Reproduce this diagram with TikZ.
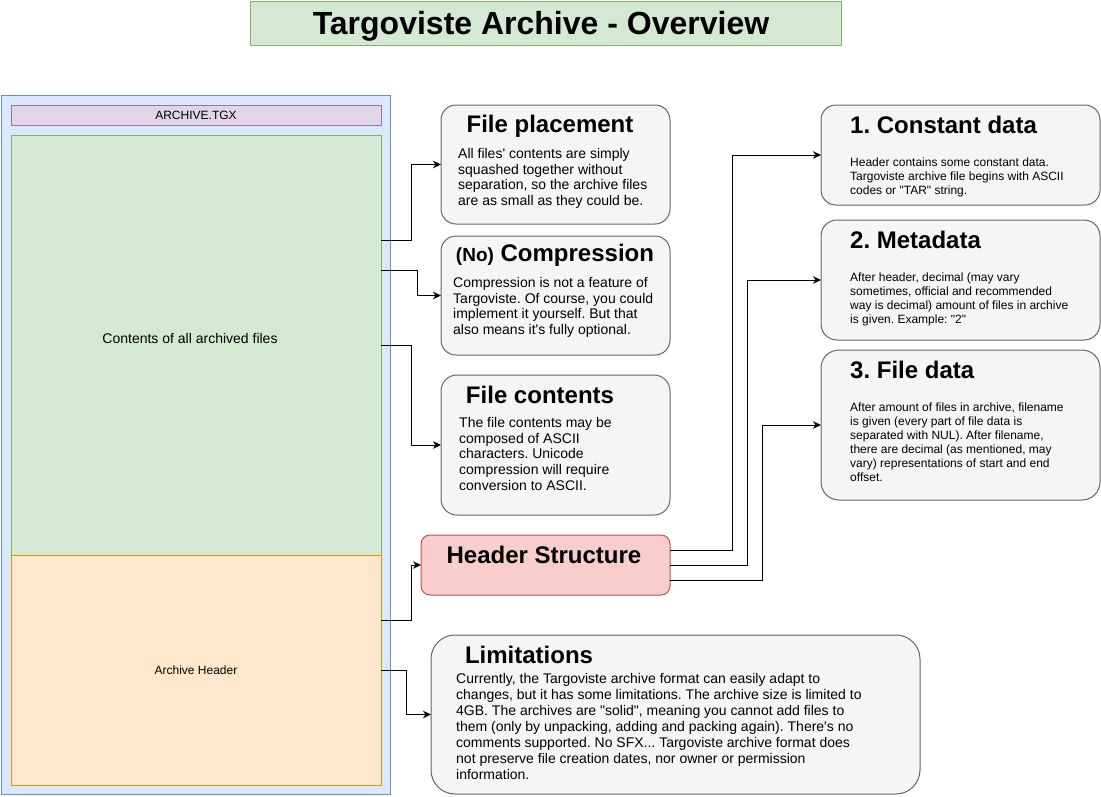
\documentclass[tikz,border=0pt]{standalone}
\usepackage{fontspec}
\setmainfont{Liberation Sans}[Ligatures=TeXOff]
\usetikzlibrary{arrows.meta,calc}
\definecolor{titleF}{HTML}{D5E8D4}
\definecolor{titleD}{HTML}{82B366}
\definecolor{blueF}{HTML}{DAE8FC}
\definecolor{blueD}{HTML}{6C8EBF}
\definecolor{purpF}{HTML}{E1D5E7}
\definecolor{purpD}{HTML}{9673A6}
\definecolor{orgF}{HTML}{FFE6CC}
\definecolor{orgD}{HTML}{D79B00}
\definecolor{greyF}{HTML}{F5F5F5}
\definecolor{greyD}{HTML}{666666}
\definecolor{pinkF}{HTML}{F8CECC}
\definecolor{pinkD}{HTML}{B85450}
\frenchspacing
\begin{document}
\begin{tikzpicture}[x=1pt,y=-1pt,
  box/.style={draw, line width=1pt, inner sep=0pt, outer sep=0pt, anchor=north west},
  greybox/.style={box, fill=greyF, draw=greyD},
  arr/.style={draw=black, line width=1pt, -{Stealth[length=8pt,width=7.5pt,inset=2.5pt]}},
  head/.style={font=\fontsize{24}{26}\selectfont\bfseries, inner sep=0pt, anchor=base},
  headw/.style={head, anchor=base west},
  body/.style={font=\fontsize{14}{15.8}\selectfont, align=left, inner sep=0pt, anchor=north west},
  sbody/.style={font=\fontsize{12}{14}\selectfont, align=left, inner sep=0pt, anchor=north west}]
\useasboundingbox (0,0) rectangle (1101,796);
\fill[white] (0,0) rectangle (1101,796);

% title
\node[box, fill=titleF, draw=titleD, minimum width=591pt, minimum height=44pt] (title) at (250,1) {};
\node[font=\fontsize{32}{34}\selectfont\bfseries, anchor=base, inner sep=0pt] (titleT) at (541,34) {Targoviste Archive - Overview};

% archive container
\node[box, fill=blueF, draw=blueD, minimum width=389pt, minimum height=699pt] (outer) at (1.5,95.5) {};
\node[box, fill=purpF, draw=purpD, minimum width=370pt, minimum height=20pt, font=\fontsize{12}{14}\selectfont] (tgx) at (11,105) {ARCHIVE.TGX};
\node[box, fill=titleF, draw=titleD, minimum width=370pt, minimum height=420pt] (green) at (11,135) {};
\node[font=\fontsize{14}{15}\selectfont, inner sep=0pt] (greenT) at (190,338) {Contents of all archived files};
\node[box, fill=orgF, draw=orgD, minimum width=370pt, minimum height=230pt, font=\fontsize{12}{13}\selectfont] (orange) at (11,555) {Archive Header};

% left column boxes
\node[greybox, rounded corners=15pt, minimum width=229pt, minimum height=119pt] (fp) at (441,105) {};
\node[head] (fpT) at (550,132) {File placement};
\node[body] (fpB) at (458,148) {All files' contents are simply\\squashed together without\\separation, so the archive files\\are as small as they could be.};

\node[greybox, rounded corners=15pt, minimum width=229pt, minimum height=119pt] (cmp) at (441,236) {};
\node[head] (cmpT) at (555,261) {{\fontsize{19}{20}\selectfont (No)} Compression};
\node[body] (cmpB) at (453,277) {Compression is not a feature of\\Targoviste. Of course, you could\\implement it yourself. But that\\also means it's fully optional.};

\node[greybox, rounded corners=16pt, minimum width=229pt, minimum height=140pt] (fc) at (441,375) {};
\node[head] (fcT) at (540,403) {File contents};
\node[body] (fcB) at (459,417) {The file contents may be\\composed of ASCII\\characters. Unicode\\compression will require\\conversion to ASCII.};

\node[box, fill=pinkF, draw=pinkD, rounded corners=9pt, minimum width=249pt, minimum height=60pt] (hs) at (421,535) {};
\node[head] (hsT) at (544,563) {Header Structure};

\node[greybox, rounded corners=24pt, minimum width=489pt, minimum height=159pt] (lim) at (431,635) {};
\node[head] (limT) at (529,663) {Limitations};
\node[body, font=\fontsize{14}{16}\selectfont] (limB) at (456,673) {Currently, the Targoviste archive format can easily adapt to\\changes, but it has some limitations. The archive size is limited to\\4GB. The archives are "solid", meaning you cannot add files to\\them (only by unpacking, adding and packing again). There's no\\comments supported. No SFX... Targoviste archive format does\\not preserve file creation dates, nor owner or permission\\information.};

% right column boxes
\node[greybox, rounded corners=15pt, minimum width=279pt, minimum height=100pt] (c1) at (821,105) {};
\node[headw] (c1T) at (850,133) {1. Constant data};
\node[sbody] (c1B) at (850,158) {Header contains some constant data.\\Targoviste archive file begins with ASCII\\codes or "TAR" string.};

\node[greybox, rounded corners=16pt, minimum width=279pt, minimum height=120pt] (c2) at (821,220) {};
\node[headw] (c2T) at (850,248) {2. Metadata};
\node[sbody] (c2B) at (850,273) {After header, decimal (may vary\\sometimes, official and recommended\\way is decimal) amount of files in archive\\is given. Example: "2"};

\node[greybox, rounded corners=18pt, minimum width=279pt, minimum height=150pt] (c3) at (821,350) {};
\node[headw] (c3T) at (850,378) {3. File data};
\node[sbody] (c3B) at (850,403) {After amount of files in archive, filename\\is given (every part of file data is\\separated with NUL). After filename,\\there are decimal (as mentioned, may\\vary) representations of start and end\\offset.};

% connectors
\draw[arr] ([yshift=105pt]green.east) -- ++(30pt,0) |- (fp.west);
\draw[arr] ([yshift=75pt]green.east) -- ++(36pt,0) |- (cmp.west);
\draw[arr] (green.east) -- ++(30pt,0) |- (fc.west);
\draw[arr] ([yshift=50pt]orange.east) -- ++(30pt,0) |- (hs.west);
\draw[arr] (orange.east) -- ++(25pt,0) |- (lim.west);
\draw[arr] ([yshift=15pt]hs.east) -- ++(62pt,0) |- (c1.west);
\draw[arr] (hs.east) -- ++(77pt,0) |- (c2.west);
\draw[arr] ([yshift=-15pt]hs.east) -- ++(92pt,0) |- (c3.west);
\end{tikzpicture}
\end{document}
